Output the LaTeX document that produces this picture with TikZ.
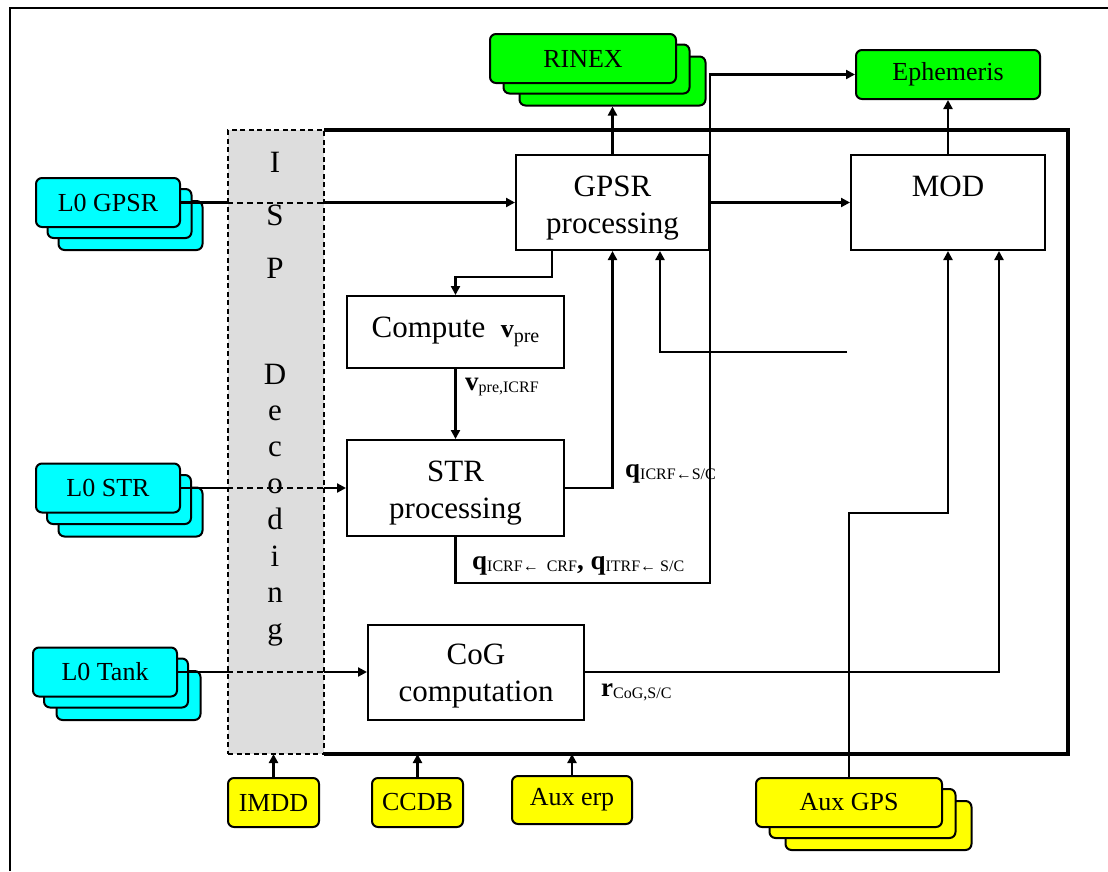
\documentclass[tikz,border=0pt]{standalone}
\usepackage{fontspec}
\setmainfont{Liberation Serif}
\usetikzlibrary{arrows.meta,calc}
\definecolor{cyanF}{RGB}{0,255,255}
\definecolor{greenF}{RGB}{0,255,0}
\definecolor{yellowF}{RGB}{255,255,0}
\definecolor{ispgray}{RGB}{221,221,221}
\newcommand\subt[1]{\raisebox{-2pt}{\fontsize{16}{18}\selectfont #1}}
\begin{document}
\begin{tikzpicture}[x=1pt,y=-1pt,
  proc/.style={draw, line width=2pt, fill=white, inner sep=0pt, align=center,
    font=\fontsize{31}{37}\selectfont},
  doc/.style={draw, line width=2pt, rounded corners=6pt, inner sep=0pt,
    font=\fontsize{26}{30}\selectfont},
  cydoc/.style={doc, fill=cyanF, minimum width=144pt, minimum height=49pt},
  grdoc/.style={doc, fill=greenF, minimum width=186pt, minimum height=49pt},
  yedoc/.style={doc, fill=yellowF, minimum height=49pt},
  conn/.style={line width=2.2pt},
  arr/.style={conn, -{Triangle[length=9pt,width=9pt]}},
  dconn/.style={line width=2pt, dash pattern=on 6pt off 4pt},
  lab/.style={anchor=base west, inner sep=0pt, font=\fontsize{27}{30}\selectfont},
  ispletter/.style={anchor=base, inner sep=0pt, font=\fontsize{31}{37}\selectfont},
]
\useasboundingbox (0,0) rectangle (1108,871);
% outer frame
\draw[line width=2pt] (10,871) -- (10,8) -- (1108,8);
% system box
\draw[line width=3.2pt] (324,130) -- (1068,130) -- (1068,754) -- (324,754);

% processes
\node[proc, minimum width=193pt, minimum height=95pt, text height=68pt] (gpsr) at (612.5,202.5) {GPSR\\processing};
\node[proc, minimum width=194pt, minimum height=95pt, text height=68pt] (mod) at (948,202.5) {MOD\\\phantom{processing}};
\node[proc, minimum width=217pt, minimum height=72pt] (comp) at (455.5,332)
  {Compute\ \ {\fontsize{26}{30}\selectfont\bfseries v}\raisebox{-4.7pt}{\fontsize{20}{22}\selectfont pre}};
\node[proc, minimum width=217pt, minimum height=96pt, text height=68pt] (str) at (455.5,488) {STR\\processing};
\node[proc, minimum width=216pt, minimum height=95pt, text height=65.4pt] (cog) at (476,672) {CoG\\computation};

% input / output stacks
\node[cydoc] (l0g3) at (130.5,225.5) {};
\node[cydoc] (l0g2) at (119.5,213.5) {};
\node[cydoc] (l0g) at (108,202.5) {L0 GPSR};
\node[cydoc] (l0s3) at (130.5,512) {};
\node[cydoc] (l0s2) at (119,499.5) {};
\node[cydoc] (l0s) at (108,488) {L0 STR};
\node[cydoc] (l0t3) at (128.5,695.5) {};
\node[cydoc] (l0t2) at (116,683) {};
\node[cydoc] (l0t) at (105,672) {L0 Tank};

\node[grdoc] (rin3) at (612.5,81) {};
\node[grdoc] (rin2) at (596.5,69) {};
\node[grdoc] (rin) at (583,58.5) {RINEX};
\node[grdoc, minimum width=184pt] (eph) at (948,74.5) {Ephemeris};

\node[yedoc, minimum width=186pt] (auxg3) at (878.5,825.5) {};
\node[yedoc, minimum width=186pt] (auxg2) at (862.5,813.5) {};
\node[yedoc, minimum width=186pt] (auxg) at (849,802.5) {Aux GPS};
\node[yedoc, minimum width=91pt] (imdd) at (273.5,802.5) {IMDD};
\node[yedoc, minimum width=91pt] (ccdb) at (417.5,802.5) {CCDB};
\node[yedoc, minimum width=120pt, minimum height=48pt] (auxerp) at (572,800) {Aux erp};

% helper coordinates
\coordinate (loopY) at (0,583);
\coordinate (cvY) at (0,277);
\coordinate (fb) at (847,352);
\coordinate (sysS) at (0,754);

% connectors
\draw[arr] (l0g.east) -- (gpsr.west);
\draw[arr] (l0s.east) -- (str.west);
\draw[arr] (l0t.east) -- (cog.west);
\draw[arr] (gpsr.east) -- (mod.west);
\draw[arr] (gpsr.north) -- (rin3.south);
\draw[arr] (mod.north) -- (eph.south);
\draw[arr] (str.south) |- (gpsr.east |- loopY) |- (eph.west);
\draw[arr] ($(gpsr.south)+(-60.5,0)$) |- (comp.north |- cvY) -- (comp.north);
\draw[arr] (comp.south) -- (str.north);
\draw[arr] (str.east) -| (gpsr.south);
\draw[arr] (fb) -| ($(gpsr.south)+(47.5,0)$);
\draw[arr] (auxg.north) -- ++(0,-264) -| (mod.south);
\draw[arr] (cog.east) -| ($(mod.south)+(51,0)$);
\draw[arr] (imdd.north) -- (imdd.north |- sysS);
\draw[arr] (ccdb.north) -- (ccdb.north |- sysS);
\draw[arr] (auxerp.north) -- (auxerp.north |- sysS);

% ISP decoding column
\node[draw, line width=1.5pt, dash pattern=on 5pt off 3.5pt, fill=ispgray,
  inner sep=0pt, minimum width=96pt, minimum height=624pt] (isp) at (276,442) {};
\draw[dconn] (isp.west |- l0g.east) -- (isp.east |- l0g.east);
\draw[dconn] (isp.west |- l0s.east) -- (isp.east |- l0s.east);
\draw[dconn] (isp.west |- l0t.east) -- (isp.east |- l0t.east);
\foreach \ch/\yy [count=\k] in {I/172,S/225,P/278,D/384,e/420,c/456.5,o/493,d/529.5,i/566,n/602.5,g/639}
  \node[ispletter] (ispL\k) at (275,\yy) {\ch};

% labels
\node[lab] (lv) at (465,390) {\textbf{v}\subt{pre,ICRF}};
\node[lab] (lq1) at (625,477) {\textbf{q}\subt{ICRF←S/C}};
\node[lab] (lq2) at (472,569) {\textbf{q}\subt{ICRF←\ \ CRF}\textbf{,} \textbf{q}\subt{ITRF← S/C}};
\node[lab] (lr) at (601,696) {\textbf{r}\subt{CoG,S/C}};
\end{tikzpicture}
\end{document}
